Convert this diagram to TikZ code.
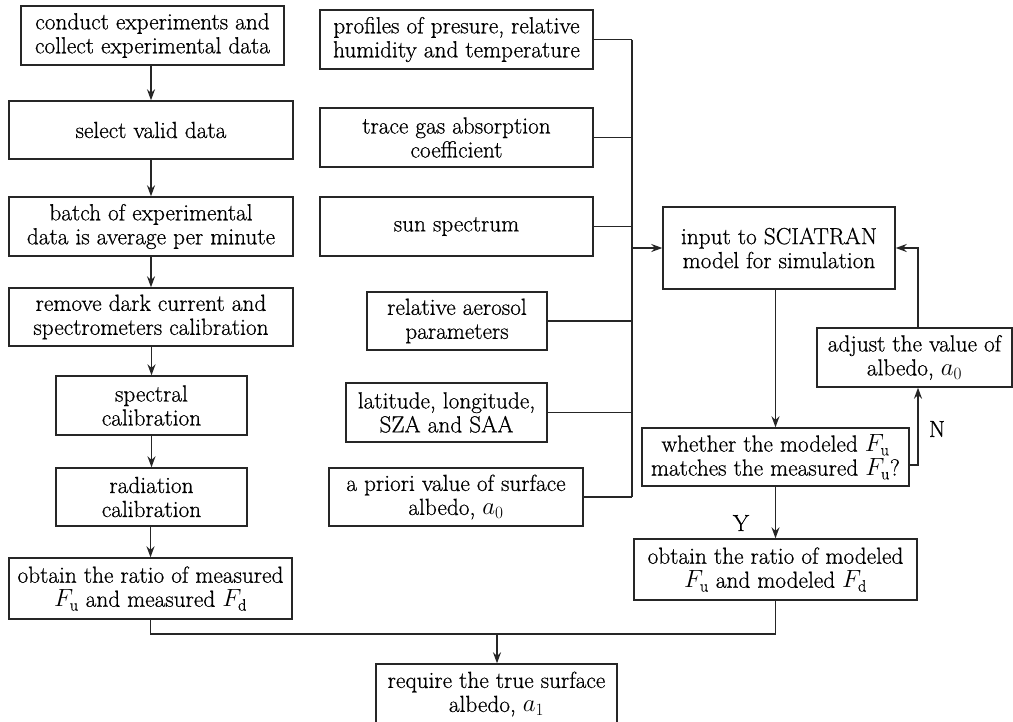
\documentclass[tikz,border=0pt]{standalone}
\usepackage{fontspec}
\setmainfont{Latin Modern Roman}[FakeBold=0.6]
\usetikzlibrary{arrows.meta}
\begin{document}
\begin{tikzpicture}[x=1pt,y=-1pt,
  box/.style={draw=black!85,line width=1.4pt,align=center,inner sep=0pt,font=\fontsize{23.3}{24}\selectfont,text=black},
  conn/.style={draw=black!85,line width=1.4pt},
  arr/.style={conn,-{Stealth[length=11pt,width=8pt]}},
  lab/.style={font=\fontsize{23.3}{24}\selectfont,text=black}]
\useasboundingbox (0,0) rectangle (1013,721);
% left column
\node[box,minimum width=263pt,minimum height=59pt] (b1) at (152.5,35.5) {conduct experiments and\\collect experimental data};
\node[box,minimum width=284pt,minimum height=58pt] (b2) at (151,130) {select valid data};
\node[box,minimum width=284pt,minimum height=59pt] (b3) at (151,226.5) {batch of experimental\\data is average per minute};
\node[box,minimum width=284pt,minimum height=58pt] (b4) at (151,317) {remove dark current and\\spectrometers calibration};
\node[box,minimum width=191pt,minimum height=59pt] (b5) at (151.5,405.5) {spectral\\calibration};
\node[box,minimum width=191pt,minimum height=58pt] (b6) at (151.5,497) {radiation\\calibration};
\node[box,minimum width=283pt,minimum height=61pt] (b7) at (150.5,588.5) {obtain the ratio of measured\\$F_{\mathrm{u}}$ and measured $F_{\mathrm{d}}$};
% middle column
\node[box,minimum width=273pt,minimum height=59pt] (p1) at (456.5,39.5) {profiles of presure, relative\\humidity and temperature};
\node[box,minimum width=273pt,minimum height=59pt] (p2) at (456.5,137.5) {trace gas absorption\\coefficient};
\node[box,minimum width=273pt,minimum height=59pt] (p3) at (456.5,226.5) {sun spectrum};
\node[box,minimum width=180pt,minimum height=58pt] (p4) at (457,321) {relative aerosol\\parameters};
\node[box,minimum width=201pt,minimum height=59pt] (p5) at (446.5,412.5) {latitude, longitude,\\SZA and SAA};
\node[box,minimum width=254pt,minimum height=58pt] (p6) at (456,497) {a priori value of surface\\albedo, $a_0$};
% right column
\node[box,minimum width=232pt,minimum height=82pt] (in) at (779,248) {input to SCIATRAN\\model for simulation};
\node[box,minimum width=195pt,minimum height=59pt] (adj) at (914.5,357.5) {adjust the value of\\albedo, $a_0$};
\node[box,minimum width=267pt,minimum height=58pt] (wh) at (775.5,457) {whether the modeled $F_{\mathrm{u}}$\\matches the measured $F_{\mathrm{u}}$?};
\node[box,minimum width=283pt,minimum height=61pt] (om) at (775.5,569.5) {obtain the ratio of modeled\\$F_{\mathrm{u}}$ and modeled $F_{\mathrm{d}}$};
\node[box,minimum width=241pt,minimum height=60pt] (fin) at (496.5,694) {require the true surface\\albedo, $a_1$};
% coordinates
\coordinate (bus) at (632,248);
\coordinate (nx) at (918,465);
\coordinate (j) at (497,634);
% left arrows
\foreach \a/\b in {b1/b2,b2/b3,b3/b4,b4/b5,b5/b6,b6/b7}
  \draw[arr] (\b.north |- \a.south) -- (\b.north);
% bus
\foreach \p in {p1,p2,p3,p4,p5,p6}
  \draw[conn] (\p.east) -- (\p.east -| bus);
\draw[conn] (p1.east -| bus) -- (p6.east -| bus);
\draw[arr] (bus) -- (in.west);
% right loop
\draw[arr] (wh.north |- in.south) -- (wh.north);
\draw[arr] (wh.east |- nx) -- (nx) -- (nx |- adj.south);
\draw[arr] (nx |- adj.north) -- (nx |- in.east) -- (in.east);
\draw[arr] (wh.south) -- (om.north);
\node[lab] (ylab) at (741,523) {Y};
\node[lab] (nlab) at (937,429) {N};
% bottom merge
\draw[conn] (b7.south) |- (j) -| (om.south);
\draw[arr] (j) -- (j |- fin.north);
\end{tikzpicture}
\end{document}
